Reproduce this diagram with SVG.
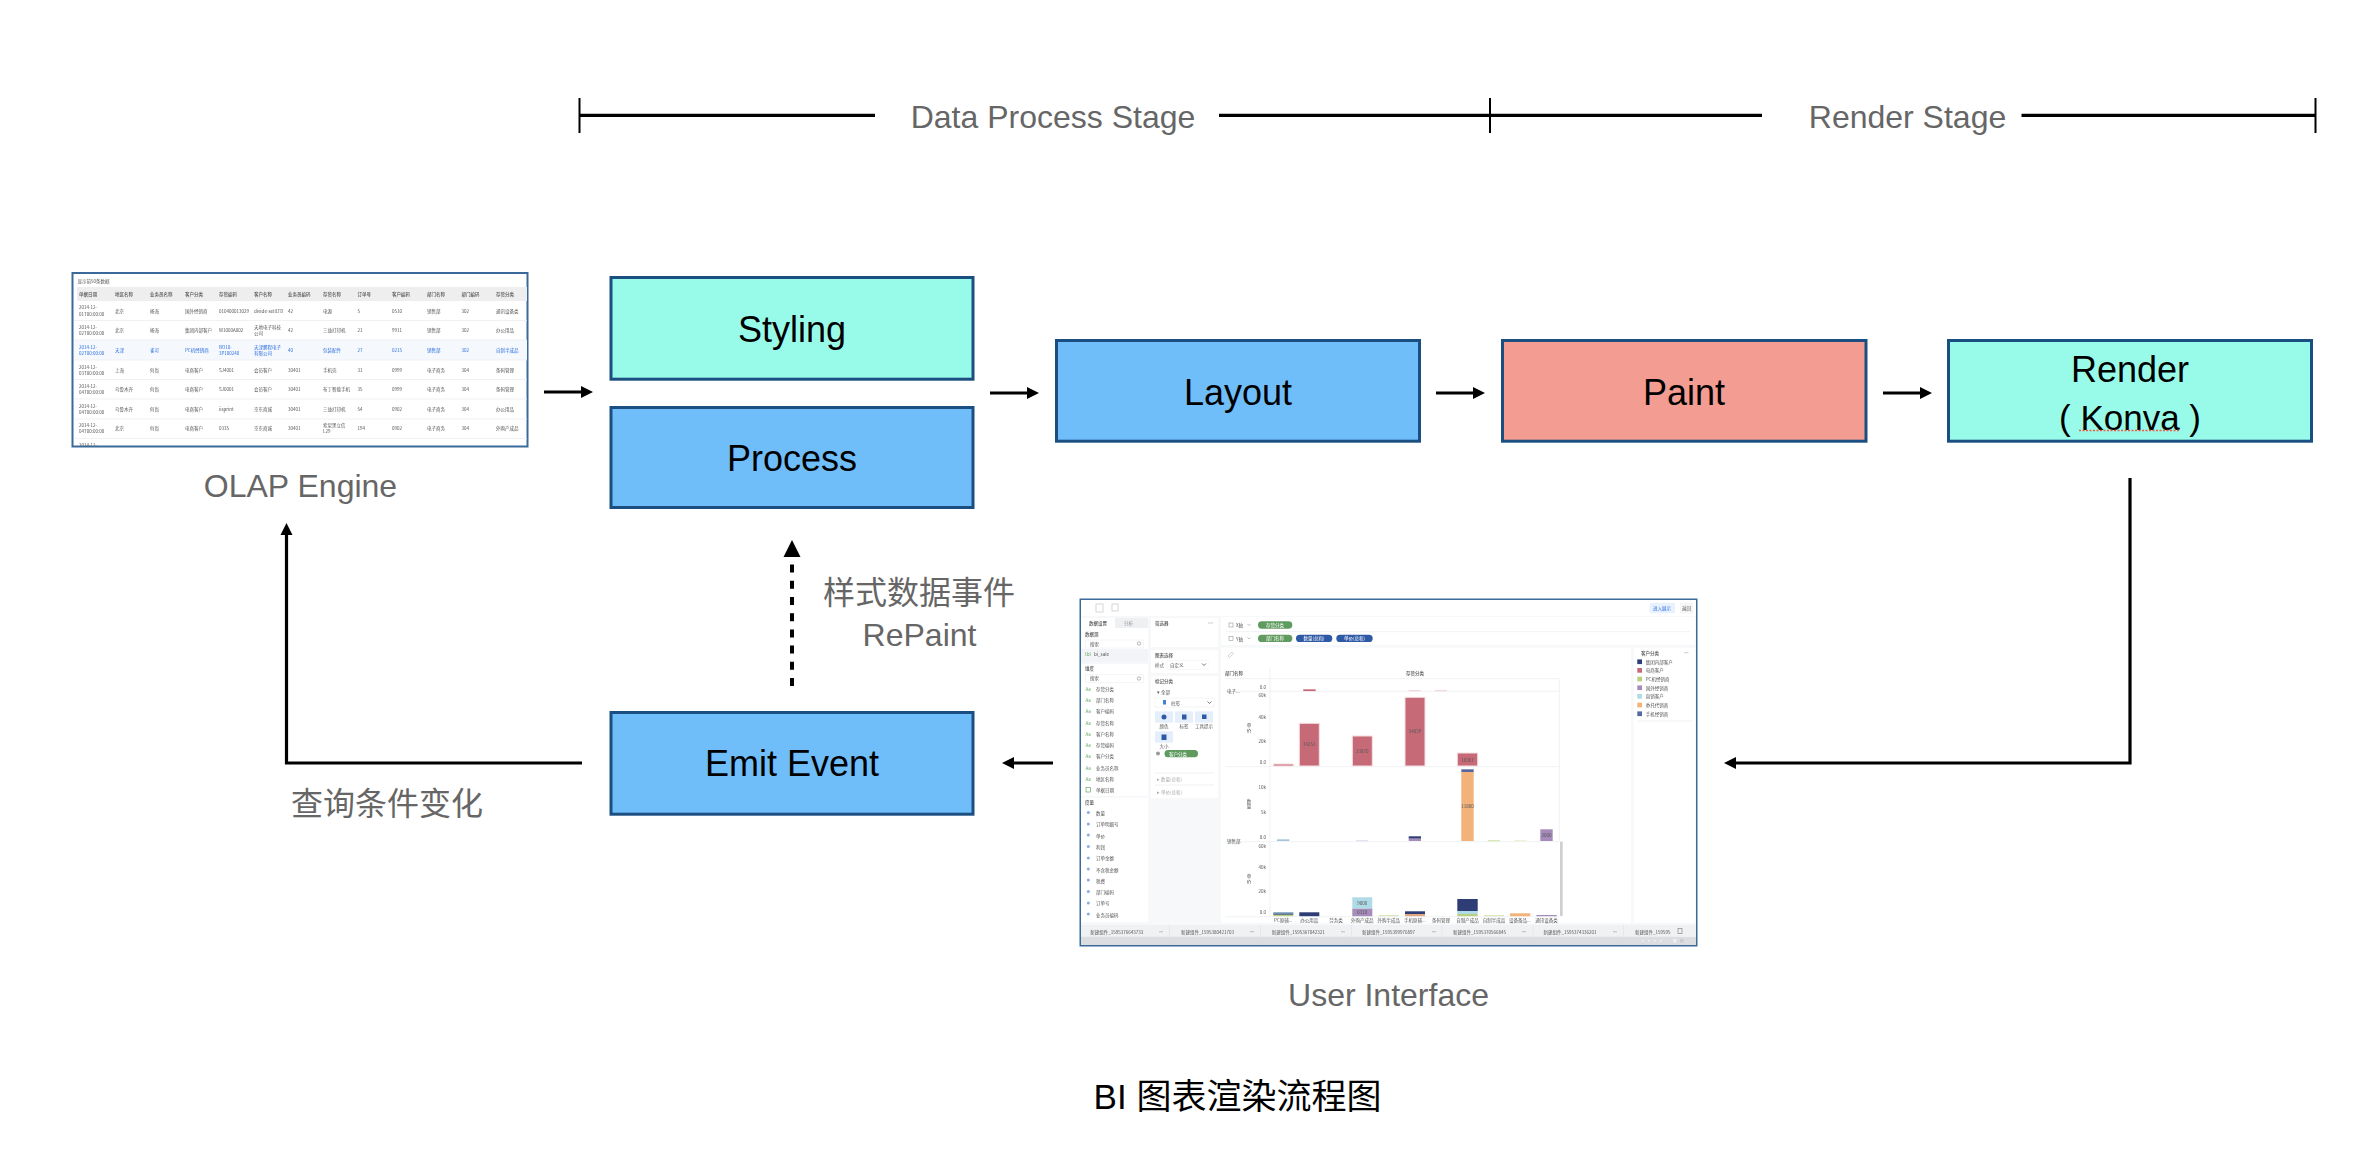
<svg xmlns="http://www.w3.org/2000/svg" width="2368" height="1170" viewBox="0 0 2368 1170">
<style>
text{font-family:"Liberation Sans","Noto Sans CJK SC",sans-serif}
.box{stroke:#1b4f82;stroke-width:3}
.blue{fill:#70bef9}.mint{fill:#98fbea}.salmon{fill:#f39c91}
.lbl{font-size:36px;fill:#000;text-anchor:middle}
.cap{font-size:32px;fill:#666;text-anchor:middle}
.con{fill:none;stroke:#000;stroke-width:3.2}
.tick{fill:none;stroke:#000;stroke-width:2}
.frame{fill:#fff;stroke:#3a6a99;stroke-width:2}
.t{font-size:4.5px;fill:#555;font-family:"Noto Sans CJK SC","Liberation Sans",sans-serif}
.h{font-size:4.5px;fill:#555;font-family:"Noto Sans CJK SC","Liberation Sans",sans-serif;font-weight:500}
.b{font-size:4.5px;fill:#2a6fe0;font-family:"Noto Sans CJK SC","Liberation Sans",sans-serif}
.m{text-anchor:middle}
.e{text-anchor:end}
.p{fill:#fff}
.sep{stroke:#eceef1;stroke-width:.8;fill:none}
.bar{stroke:#f6dfe2;stroke-width:1}
</style>
<defs>
<marker id="a" markerUnits="userSpaceOnUse" markerWidth="14" markerHeight="14" viewBox="0 0 14 14" refX="7" refY="7" orient="auto"><path d="M1 1 L13 7 L1 13 Z" fill="#000"/></marker>
<marker id="ad" markerUnits="userSpaceOnUse" markerWidth="18" markerHeight="18" viewBox="0 0 18 18" refX="0" refY="9" orient="auto"><path d="M0 .5 L17 9 L0 17.5 Z" fill="#000"/></marker>
<filter id="blur" x="-2%" y="-2%" width="104%" height="104%"><feGaussianBlur stdDeviation="0.75"/></filter>
<clipPath id="tc"><rect x="73" y="274" width="454" height="172"/></clipPath>
<clipPath id="uc"><rect x="1081" y="600" width="615" height="345"/></clipPath>
</defs>
<rect width="2368" height="1170" fill="#fff"/>

<g id="stage-brackets">
<path class="tick" d="M579.5 98V133M1490 98V133M2315.5 98V133"/>
<path class="con" d="M579.5 115.3H875M1219 115.3H1490M1490 115.3H1762M2021.5 115.3H2315.5"/>
<text class="cap" x="1053" y="128">Data Process Stage</text>
<text class="cap" x="1907.5" y="128">Render Stage</text>
</g>

<g id="connectors">
<path class="con" marker-end="url(#a)" d="M544 392H587"/>
<path class="con" marker-end="url(#a)" d="M990 393H1033"/>
<path class="con" marker-end="url(#a)" d="M1436 393H1479"/>
<path class="con" marker-end="url(#a)" d="M1883 393H1926"/>
<path class="con" marker-end="url(#a)" d="M2130 478V763H1730"/>
<path class="con" marker-end="url(#a)" d="M1053 763H1008"/>
<path class="con" marker-end="url(#a)" d="M582 763H286.5V529"/>
<path class="con" style="stroke-width:4;stroke-dasharray:8 8.2" marker-end="url(#ad)" d="M792 686V557"/>
</g>

<g id="olap-engine">
<rect class="frame" x="72.5" y="273" width="455" height="173.500"/>
<g filter="url(#blur)" clip-path="url(#tc)">
<rect x="77" y="287" width="450" height="14" fill="#eeeeee"/>
<rect x="74" y="340" width="453" height="20" fill="#f5f8fc"/>
<path class="sep" d="M74 320.500H527M74 340H527M74 360H527M74 379.500H527M74 399H527M74 419H527M74 438.500H527"/>
<text class="t" x="77.500" y="282.500">显示前50条数据</text>
<g><text class="h" x="79" y="296">单据日期</text><text class="h" x="115" y="296">地区名称</text><text class="h" x="150" y="296">业务员名称</text><text class="h" x="185" y="296">客户分类</text><text class="h" x="219" y="296">存货编码</text><text class="h" x="254" y="296">客户名称</text><text class="h" x="288" y="296">业务员编码</text><text class="h" x="323" y="296">存货名称</text><text class="h" x="357.500" y="296">订单号</text><text class="h" x="392" y="296">客户编码</text><text class="h" x="427" y="296">部门名称</text><text class="h" x="461.500" y="296">部门编码</text><text class="h" x="496" y="296">存货分类</text></g>
<g>
<text class="t" x="79" y="309">2014-12-</text><text class="t" x="79" y="315.500">01T00:00:00</text><text class="t" x="115" y="312.500">北京</text><text class="t" x="150" y="312.500">杨海</text><text class="t" x="185" y="312.500">国外经销商</text><text class="t" x="219" y="312.500">010400013029</text><text class="t" x="254" y="312.500">divide-sellLTD</text><text class="t" x="288" y="312.500">42</text><text class="t" x="323" y="312.500">电源</text><text class="t" x="357.500" y="312.500">5</text><text class="t" x="392" y="312.500">0510</text><text class="t" x="427" y="312.500">销售部</text><text class="t" x="461.500" y="312.500">302</text><text class="t" x="496" y="312.500">通讯设备类</text>
<text class="t" x="79" y="329">2014-12-</text><text class="t" x="79" y="335">02T00:00:00</text><text class="t" x="115" y="332">北京</text><text class="t" x="150" y="332">杨海</text><text class="t" x="185" y="332">集团内部客户</text><text class="t" x="219" y="332">W1000A002</text><text class="t" x="254" y="329">天地电子科技</text><text class="t" x="254" y="335">公司</text><text class="t" x="288" y="332">42</text><text class="t" x="323" y="332">三益打印机</text><text class="t" x="357.500" y="332">21</text><text class="t" x="392" y="332">9911</text><text class="t" x="427" y="332">销售部</text><text class="t" x="461.500" y="332">302</text><text class="t" x="496" y="332">办公用品</text>
<text class="b" x="79" y="348.500">2014-12-</text><text class="b" x="79" y="354.500">02T00:00:00</text><text class="b" x="115" y="351.500">天津</text><text class="b" x="150" y="351.500">雀可</text><text class="b" x="185" y="351.500">PC机经销商</text><text class="b" x="219" y="348.500">BO10-</text><text class="b" x="219" y="354.500">3P100240</text><text class="b" x="254" y="348.500">天津鹏程电子</text><text class="b" x="254" y="354.500">有限公司</text><text class="b" x="288" y="351.500">40</text><text class="b" x="323" y="351.500">包装配件</text><text class="b" x="357.500" y="351.500">27</text><text class="b" x="392" y="351.500">0215</text><text class="b" x="427" y="351.500">销售部</text><text class="b" x="461.500" y="351.500">302</text><text class="b" x="496" y="351.500">自制半成品</text>
<text class="t" x="79" y="368.500">2014-12-</text><text class="t" x="79" y="374.500">03T00:00:00</text><text class="t" x="115" y="371.500">上海</text><text class="t" x="150" y="371.500">何尚</text><text class="t" x="185" y="371.500">电商客户</text><text class="t" x="219" y="371.500">SJ4001</text><text class="t" x="254" y="371.500">会员客户</text><text class="t" x="288" y="371.500">30401</text><text class="t" x="323" y="371.500">手机壳</text><text class="t" x="357.500" y="371.500">31</text><text class="t" x="392" y="371.500">0999</text><text class="t" x="427" y="371.500">电子商务</text><text class="t" x="461.500" y="371.500">304</text><text class="t" x="496" y="371.500">条码管理</text>
<text class="t" x="79" y="388">2014-12-</text><text class="t" x="79" y="394">04T00:00:00</text><text class="t" x="115" y="391">乌鲁木齐</text><text class="t" x="150" y="391">何尚</text><text class="t" x="185" y="391">电商客户</text><text class="t" x="219" y="391">SJ0001</text><text class="t" x="254" y="391">会员客户</text><text class="t" x="288" y="391">30401</text><text class="t" x="323" y="391">布丁智能手机</text><text class="t" x="357.500" y="391">35</text><text class="t" x="392" y="391">0999</text><text class="t" x="427" y="391">电子商务</text><text class="t" x="461.500" y="391">304</text><text class="t" x="496" y="391">条码管理</text>
<text class="t" x="79" y="407.500">2014-12-</text><text class="t" x="79" y="413.500">04T00:00:00</text><text class="t" x="115" y="411">乌鲁木齐</text><text class="t" x="150" y="411">何尚</text><text class="t" x="185" y="411">电商客户</text><text class="t" x="219" y="411">iisprint</text><text class="t" x="254" y="411">京东商城</text><text class="t" x="288" y="411">30401</text><text class="t" x="323" y="411">三益打印机</text><text class="t" x="357.500" y="411">54</text><text class="t" x="392" y="411">0902</text><text class="t" x="427" y="411">电子商务</text><text class="t" x="461.500" y="411">304</text><text class="t" x="496" y="411">办公用品</text>
<text class="t" x="79" y="427">2014-12-</text><text class="t" x="79" y="433">04T00:00:00</text><text class="t" x="115" y="430">北京</text><text class="t" x="150" y="430">何尚</text><text class="t" x="185" y="430">电商客户</text><text class="t" x="219" y="430">0335</text><text class="t" x="254" y="430">京东商城</text><text class="t" x="288" y="430">30401</text><text class="t" x="323" y="427">索尼黑立信</text><text class="t" x="323" y="433">L29</text><text class="t" x="357.500" y="430">194</text><text class="t" x="392" y="430">0902</text><text class="t" x="427" y="430">电子商务</text><text class="t" x="461.500" y="430">304</text><text class="t" x="496" y="430">外购产成品</text>
<text class="t" x="79" y="447">2014-12-</text>
</g>
</g>
<text class="cap" x="300.500" y="497">OLAP Engine</text>
</g>

<g id="styling"><rect class="box mint" x="611" y="277.500" width="362" height="101.700"/><text class="lbl" x="792" y="342">Styling</text></g>
<g id="process"><rect class="box blue" x="611" y="407.500" width="362" height="100"/><text class="lbl" x="792" y="471">Process</text></g>
<g id="layout"><rect class="box blue" x="1056.500" y="340.500" width="363" height="100.700"/><text class="lbl" x="1238" y="405">Layout</text></g>
<g id="paint"><rect class="box salmon" x="1502.500" y="340.500" width="363.500" height="100.700"/><text class="lbl" x="1684" y="405">Paint</text></g>
<g id="render"><rect class="box mint" x="1948.500" y="340.500" width="363" height="100.700"/><text class="lbl" x="2130" y="382">Render</text><text class="lbl" style="font-size:35px" x="2130" y="430">( Konva )</text><path d="M2079 430.500H2179" fill="none" stroke="#ee5a45" stroke-width="1.600" stroke-dasharray="2 1.500"/></g>
<g id="emit-event"><rect class="box blue" x="611" y="712.500" width="362" height="101.700"/><text class="lbl" x="792" y="776">Emit Event</text></g>

<g id="edge-labels">
<text class="cap" x="919" y="604">样式数据事件</text>
<text class="cap" x="919.500" y="646">RePaint</text>
<text class="cap" x="387" y="815">查询条件变化</text>
</g>

<g id="user-interface">
<rect class="frame" x="1080.500" y="599.500" width="616" height="346"/>
<g filter="url(#blur)" clip-path="url(#uc)">
<rect x="1081" y="600" width="615" height="345" fill="#f7f8fa"/>
<rect class="p" x="1081" y="600" width="615" height="16"/>
<rect x="1096" y="604" width="7" height="8" fill="none" stroke="#c9ccd1" stroke-width=".8"/><rect x="1112" y="604" width="6" height="7" fill="none" stroke="#c9ccd1" stroke-width=".8"/>
<rect x="1649.500" y="602.700" width="25.500" height="10.600" rx="1.500" fill="#e8f1fd"/><text class="b m" x="1662" y="609.500">进入展示</text>
<rect x="1680" y="602.700" width="13" height="10.600" fill="#f6f6f6"/><text class="t m" x="1686.500" y="609.500">返回</text>

<rect class="p" x="1081" y="618" width="67" height="304"/>
<rect x="1115" y="618" width="33" height="10" fill="#eff0f2"/>
<rect x="1081" y="649" width="67" height="13" fill="#f3f4f7"/>
<rect x="1081" y="662" width="67" height="2" fill="#f6f7f9"/>
<rect x="1081" y="796" width="67" height="1.500" fill="#f6f7f9"/>
<text class="h" x="1089" y="625">数据设置</text><text class="t" x="1124" y="625" style="fill:#999">分析</text>
<text class="h" x="1085" y="636">数据源</text>
<rect x="1085.500" y="640" width="58" height="8" fill="#fff" stroke="#eee" stroke-width=".6"/><text class="t" x="1090" y="645.500">搜索</text><circle cx="1139" cy="643.500" r="1.700" fill="none" stroke="#888" stroke-width=".6"/>
<text class="t" x="1085" y="656" style="fill:#6aa86a">tbl</text><text class="t" x="1094" y="656">bi_sale</text>
<text class="h" x="1085" y="670">维度</text>
<rect x="1085.500" y="674.500" width="58" height="8" fill="#fff" stroke="#eee" stroke-width=".6"/><text class="t" x="1090" y="680">搜索</text><circle cx="1139" cy="678.500" r="1.700" fill="none" stroke="#888" stroke-width=".6"/>
<g>
<text class="t" x="1085.500" y="690.500" style="fill:#6aa86a">Aa</text><text class="t" x="1085.500" y="702" style="fill:#6aa86a">Aa</text><text class="t" x="1085.500" y="713" style="fill:#6aa86a">Aa</text><text class="t" x="1085.500" y="724.500" style="fill:#6aa86a">Aa</text><text class="t" x="1085.500" y="735.500" style="fill:#6aa86a">Aa</text><text class="t" x="1085.500" y="747" style="fill:#6aa86a">Aa</text><text class="t" x="1085.500" y="758" style="fill:#6aa86a">Aa</text><text class="t" x="1085.500" y="769.500" style="fill:#6aa86a">Aa</text><text class="t" x="1085.500" y="781" style="fill:#6aa86a">Aa</text>
</g>
<rect x="1086" y="787.500" width="4.500" height="4.500" fill="none" stroke="#6aa86a" stroke-width=".7"/>
<text class="t" x="1096" y="690.500">存货分类</text><text class="t" x="1096" y="702">部门名称</text><text class="t" x="1096" y="713">客户编码</text><text class="t" x="1096" y="724.500">存货名称</text><text class="t" x="1096" y="735.500">客户名称</text><text class="t" x="1096" y="747">存货编码</text><text class="t" x="1096" y="758">客户分类</text><text class="t" x="1096" y="769.500">业务员名称</text><text class="t" x="1096" y="781">地区名称</text><text class="t" x="1096" y="792">单据日期</text>
<text class="h" x="1085" y="803.500">度量</text>
<g fill="#8ea9dc"><circle cx="1088.300" cy="812.500" r="1.500"/><circle cx="1088.300" cy="824" r="1.500"/><circle cx="1088.300" cy="835" r="1.500"/><circle cx="1088.300" cy="846.500" r="1.500"/><circle cx="1088.300" cy="858" r="1.500"/><circle cx="1088.300" cy="869" r="1.500"/><circle cx="1088.300" cy="880" r="1.500"/><circle cx="1088.300" cy="891.500" r="1.500"/><circle cx="1088.300" cy="903" r="1.500"/><circle cx="1088.300" cy="914" r="1.500"/></g>
<text class="t" x="1096" y="815">数量</text><text class="t" x="1096" y="826">订单明细号</text><text class="t" x="1096" y="837.500">单价</text><text class="t" x="1096" y="849">利润</text><text class="t" x="1096" y="860">订单金额</text><text class="t" x="1096" y="871.500">不含税金额</text><text class="t" x="1096" y="882.500">税费</text><text class="t" x="1096" y="894">部门编码</text><text class="t" x="1096" y="905">订单号</text><text class="t" x="1096" y="916.500">业务员编码</text>

<rect class="p" x="1151" y="618" width="67" height="29"/>
<rect class="p" x="1151" y="650" width="67" height="23"/>
<rect class="p" x="1151" y="676" width="67" height="122"/>
<text class="h" x="1155" y="625">筛选器</text><path d="M1208 623H1213" stroke="#bbb" stroke-width=".7"/>
<text class="h" x="1155" y="657">图表选择</text>
<text class="t" x="1155" y="667">样式</text><rect x="1167" y="660.500" width="41" height="9" fill="#fff" stroke="#f0f0f0" stroke-width=".5"/><text class="t" x="1170" y="667">自定义</text><path d="M1202 663.500l2 2 2-2" fill="none" stroke="#555" stroke-width=".8"/>
<text class="h" x="1155" y="683">标记分类</text>
<text class="t" x="1157" y="693.500">▾ 全部</text>
<rect x="1155" y="698" width="59" height="9" fill="#fff" stroke="#eee" stroke-width=".6"/><rect x="1163" y="700" width="3" height="4.500" fill="#4a7fd0"/><text class="t" x="1171" y="704.500">柱形</text><path d="M1207.500 701.500l2 2 2-2" fill="none" stroke="#555" stroke-width=".8"/>
<g fill="#e5effb"><rect x="1155" y="711.300" width="18" height="11.400"/><rect x="1175" y="711.300" width="18" height="11.400"/><rect x="1195" y="711.300" width="18" height="11.400"/><rect x="1155" y="731.300" width="18" height="11.400"/></g>
<g fill="#2f5aa5"><circle cx="1164" cy="717" r="2.500"/><rect x="1182" y="714.500" width="4.500" height="5"/><rect x="1202" y="714.500" width="4.500" height="4.500"/><rect x="1161.500" y="734.500" width="5" height="5.500"/></g>
<text class="t m" x="1164" y="727.500">颜色</text><text class="t m" x="1184" y="727.500">标签</text><text class="t m" x="1204" y="727.500">工具提示</text><text class="t m" x="1164" y="747.500">大小</text>
<circle cx="1158" cy="753.500" r="2" fill="#999"/>
<rect x="1164.500" y="750" width="33.500" height="7.300" rx="3.600" fill="#5f9a5f"/><text class="t m" x="1178" y="755.500" style="fill:#fff">客户分类</text>
<path class="sep" d="M1155 773H1214M1155 785H1214"/>
<text class="t" x="1157" y="781" style="fill:#aaa">▸ 数量(总和)</text><text class="t" x="1157" y="793.500" style="fill:#aaa">▸ 单价(总和)</text>

<rect class="p" x="1221" y="617" width="474" height="28"/>
<path class="sep" d="M1226 631.700H1690"/>
<rect x="1229" y="623" width="4" height="4" fill="none" stroke="#999" stroke-width=".6"/><text class="t" x="1236" y="627">X轴</text><path d="M1247.500 624l1.500 1.500 1.500-1.500" fill="none" stroke="#999" stroke-width=".6"/>
<rect x="1229" y="636.500" width="4" height="4" fill="none" stroke="#999" stroke-width=".6"/><text class="t" x="1236" y="640.500">Y轴</text><path d="M1247.500 637.500l1.500 1.500 1.500-1.500" fill="none" stroke="#999" stroke-width=".6"/>
<rect x="1258" y="621.300" width="34.300" height="7.400" rx="3.700" fill="#5f9a5f"/><text class="t m" x="1275" y="626.800" style="fill:#fff">存货分类</text>
<rect x="1258" y="634.700" width="34.300" height="7.400" rx="3.700" fill="#5f9a5f"/><text class="t m" x="1275" y="640.200" style="fill:#fff">部门名称</text>
<rect x="1296" y="634.700" width="36.300" height="7.400" rx="3.700" fill="#2f5aa5"/><text class="t m" x="1314" y="640.200" style="fill:#fff">数量(总和)</text>
<rect x="1336.300" y="634.700" width="36.400" height="7.400" rx="3.700" fill="#2f5aa5"/><text class="t m" x="1354.500" y="640.200" style="fill:#fff">单价(总和)</text>

<rect class="p" x="1221" y="647.700" width="410" height="275.300"/>
<rect class="p" x="1633.700" y="647.700" width="61.300" height="275"/>
<path d="M1228 656l4-4 1.500 1.500-4 4z" fill="none" stroke="#bbb" stroke-width=".6"/>
<text class="h" x="1225" y="674.500">部门名称</text><text class="h m" x="1415" y="674.500">存货分类</text>
<path class="sep" d="M1225 678.700H1559.300M1225 691.300H1559.300M1225 766.700H1559.300M1225 841.700H1559.300M1225 916.700H1559.300M1270 668V916.700M1559.300 678.700V841.700"/>
<text class="t" x="1227" y="693">电子...</text><text class="t" x="1227" y="843">销售部</text>
<g>
<text class="t e" x="1266" y="688.700">0.0</text><text class="t e" x="1266" y="697.300">60k</text><text class="t e" x="1266" y="718.700">40k</text><text class="t e" x="1266" y="743.300">20k</text><text class="t e" x="1266" y="764">0.0</text><text class="t e" x="1266" y="789.300">10k</text><text class="t e" x="1266" y="814">5k</text><text class="t e" x="1266" y="839">0.0</text><text class="t e" x="1266" y="847.700">60k</text><text class="t e" x="1266" y="869">40k</text><text class="t e" x="1266" y="893.300">20k</text><text class="t e" x="1266" y="914.300">0.0</text>
</g>
<text class="t m" x="1249" y="727">单</text><text class="t m" x="1249" y="732">价</text><text class="t m" x="1249" y="803">数</text><text class="t m" x="1249" y="808">量</text><text class="t m" x="1249" y="878">单</text><text class="t m" x="1249" y="883">价</text>

<rect x="1303.300" y="689.300" width="12.400" height="1.800" fill="#c76b78"/>
<rect x="1408.700" y="690" width="12" height="1.200" fill="#f3d6da"/><rect x="1435" y="690" width="12" height="1.200" fill="#f3d6da"/>
<g fill="#c76b78">
<rect class="bar" x="1273.300" y="764" width="20" height="2"/>
<rect class="bar" x="1299.300" y="723.300" width="20" height="42.700"/>
<rect class="bar" x="1352.300" y="736" width="20" height="30"/>
<rect class="bar" x="1405" y="697.300" width="20" height="68.700"/>
<rect class="bar" x="1457.300" y="753" width="20.400" height="13"/>
</g>
<text class="t m" x="1309.300" y="746">34253</text><text class="t m" x="1362.300" y="752.500">23870</text><text class="t m" x="1415" y="733">54839</text><text class="t m" x="1467.500" y="761.500">10387</text>
<rect x="1277" y="839.300" width="12.300" height="1.700" fill="#a5c6da"/>
<rect x="1356" y="840" width="12.300" height="1.300" fill="#e3e3ef"/>
<rect x="1408.700" y="836.300" width="12.300" height="2.400" fill="#2d3d75"/><rect x="1408.700" y="838.700" width="12.300" height="2.300" fill="#a68bbb"/>
<rect x="1461.300" y="769.300" width="12.400" height="2.700" fill="#55689f"/><rect x="1461.300" y="772" width="12.400" height="69" fill="#f2b27a"/>
<text class="t m" x="1467.500" y="808">11800</text>
<rect x="1487.700" y="840" width="12.300" height="1.300" fill="#dbe6b8"/><rect x="1514" y="840" width="12.300" height="1.300" fill="#eef2d6"/>
<rect x="1540.300" y="829.300" width="12.400" height="11.700" fill="#a68bbb"/><text class="t m" x="1546.500" y="837">2000</text>
<rect x="1273.300" y="912" width="20" height="1.500" fill="#8fb4cc"/><rect x="1273.300" y="913.500" width="20" height="1.300" fill="#2d3d75"/><rect x="1273.300" y="914.800" width="20" height="1.400" fill="#b9d07f"/>
<rect x="1299.300" y="912.300" width="20" height="3.900" fill="#2d3d75"/>
<rect x="1352.300" y="897.300" width="20" height="11.400" fill="#aedbe6"/><rect x="1352.300" y="908.700" width="20" height="7.500" fill="#a68bbb"/>
<text class="t m" x="1362.300" y="904.500">9000</text><text class="t m" x="1362.300" y="914">6310</text>
<rect x="1378.700" y="915" width="20" height="1.200" fill="#dbe6b8"/>
<rect x="1405" y="911.300" width="20" height="2.700" fill="#2d3d75"/><rect x="1405" y="914" width="20" height="2.200" fill="#e2a77f"/>
<rect x="1457.300" y="899" width="20.400" height="12" fill="#2d3d75"/><rect x="1457.300" y="911" width="20.400" height="3" fill="#aedbe6"/><rect x="1457.300" y="914" width="20.400" height="2.200" fill="#b9d07f"/>
<rect x="1484" y="915" width="20" height="1.200" fill="#dbe6b8"/><rect x="1510" y="913.300" width="20.300" height="2.900" fill="#f2b27a"/><rect x="1536.300" y="915" width="20.400" height="1.200" fill="#a68bbb"/>
<rect x="1560" y="841.700" width="2.700" height="74.300" fill="#cfcfcf"/>
<g>
<text class="t m" x="1283.300" y="921.500">PC原辅...</text><text class="t m" x="1309.300" y="921.500">办公用品</text><text class="t m" x="1336" y="921.500">劳务类</text><text class="t m" x="1362.300" y="921.500">外购产成品</text><text class="t m" x="1388.700" y="921.500">外购半成品</text><text class="t m" x="1415" y="921.500">手机原辅...</text><text class="t m" x="1441" y="921.500">条码管理</text><text class="t m" x="1467.500" y="921.500">自制产成品</text><text class="t m" x="1494" y="921.500">自制半成品</text><text class="t m" x="1520" y="921.500">设备备品...</text><text class="t m" x="1546.500" y="921.500">通讯设备类</text>
</g>
<text class="h" x="1641" y="654.700">客户分类</text><path d="M1684 652.700H1688.500" stroke="#bbb" stroke-width=".7"/>
<rect x="1637.300" y="659.400" width="4.700" height="4.700" fill="#2d3d75"/><text class="t" x="1645.700" y="663.700">集团内部客户</text>
<rect x="1637.300" y="668" width="4.700" height="4.700" fill="#c76b78"/><text class="t" x="1645.700" y="672.300">电商客户</text>
<rect x="1637.300" y="676.700" width="4.700" height="4.700" fill="#b9d07f"/><text class="t" x="1645.700" y="681">PC机经销商</text>
<rect x="1637.300" y="685.400" width="4.700" height="4.700" fill="#a68bbb"/><text class="t" x="1645.700" y="689.700">国外经销商</text>
<rect x="1637.300" y="694" width="4.700" height="4.700" fill="#aedbe6"/><text class="t" x="1645.700" y="698.300">直销客户</text>
<rect x="1637.300" y="702.700" width="4.700" height="4.700" fill="#f2b27a"/><text class="t" x="1645.700" y="707">委托代销商</text>
<rect x="1637.300" y="711.400" width="4.700" height="4.700" fill="#55689f"/><text class="t" x="1645.700" y="715.700">手机经销商</text>
<path class="sep" d="M1637 721H1692"/>

<rect x="1081" y="925" width="615" height="11.700" fill="#f0f1f3"/>
<rect x="1081" y="936.700" width="615" height="8.300" fill="#dcdde0"/>
<path d="M1169.500 925V936.700M1260.500 925V936.700M1351.500 925V936.700M1442 925V936.700M1533 925V936.700M1623.500 925V936.700" stroke="#e2e3e6" stroke-width=".7"/>
<g>
<text class="t" x="1090.300" y="933.700">新建组件_1595376643733</text><text class="t" x="1181" y="933.700">新建组件_1595380421703</text><text class="t" x="1271.700" y="933.700">新建组件_1595367042321</text><text class="t" x="1362" y="933.700">新建组件_1595399976897</text><text class="t" x="1453" y="933.700">新建组件_1595370566845</text><text class="t" x="1543.600" y="933.700">新建组件_1595374336201</text><text class="t" x="1635" y="933.700">新建组件_159595</text>
</g>
<rect x="1672" y="925" width="24" height="11.700" fill="#f0f1f3"/>
<path d="M1159 931.700H1163M1250 931.700H1254M1341 931.700H1345M1432 931.700H1436M1522 931.700H1526M1613 931.700H1617" stroke="#aaa" stroke-width=".7"/>
<rect x="1678" y="928.500" width="4" height="5" fill="none" stroke="#888" stroke-width=".7"/>
<path d="M1642 940.700h1.500M1648 940.700h1.500M1654 940.700h1.500M1660 940.700h1.500" stroke="#f6f6f6" stroke-width="1.500"/>
<rect x="1673" y="939" width="3.500" height="3.500" fill="#eee"/><rect x="1680" y="939" width="3.500" height="3.500" fill="#ccc"/>
</g>
<text class="cap" x="1388.500" y="1006">User Interface</text>
</g>

<g id="title"><text x="1237.500" y="1109" text-anchor="middle" style="font-size:35px;fill:#000">BI 图表渲染流程图</text></g>
</svg>
